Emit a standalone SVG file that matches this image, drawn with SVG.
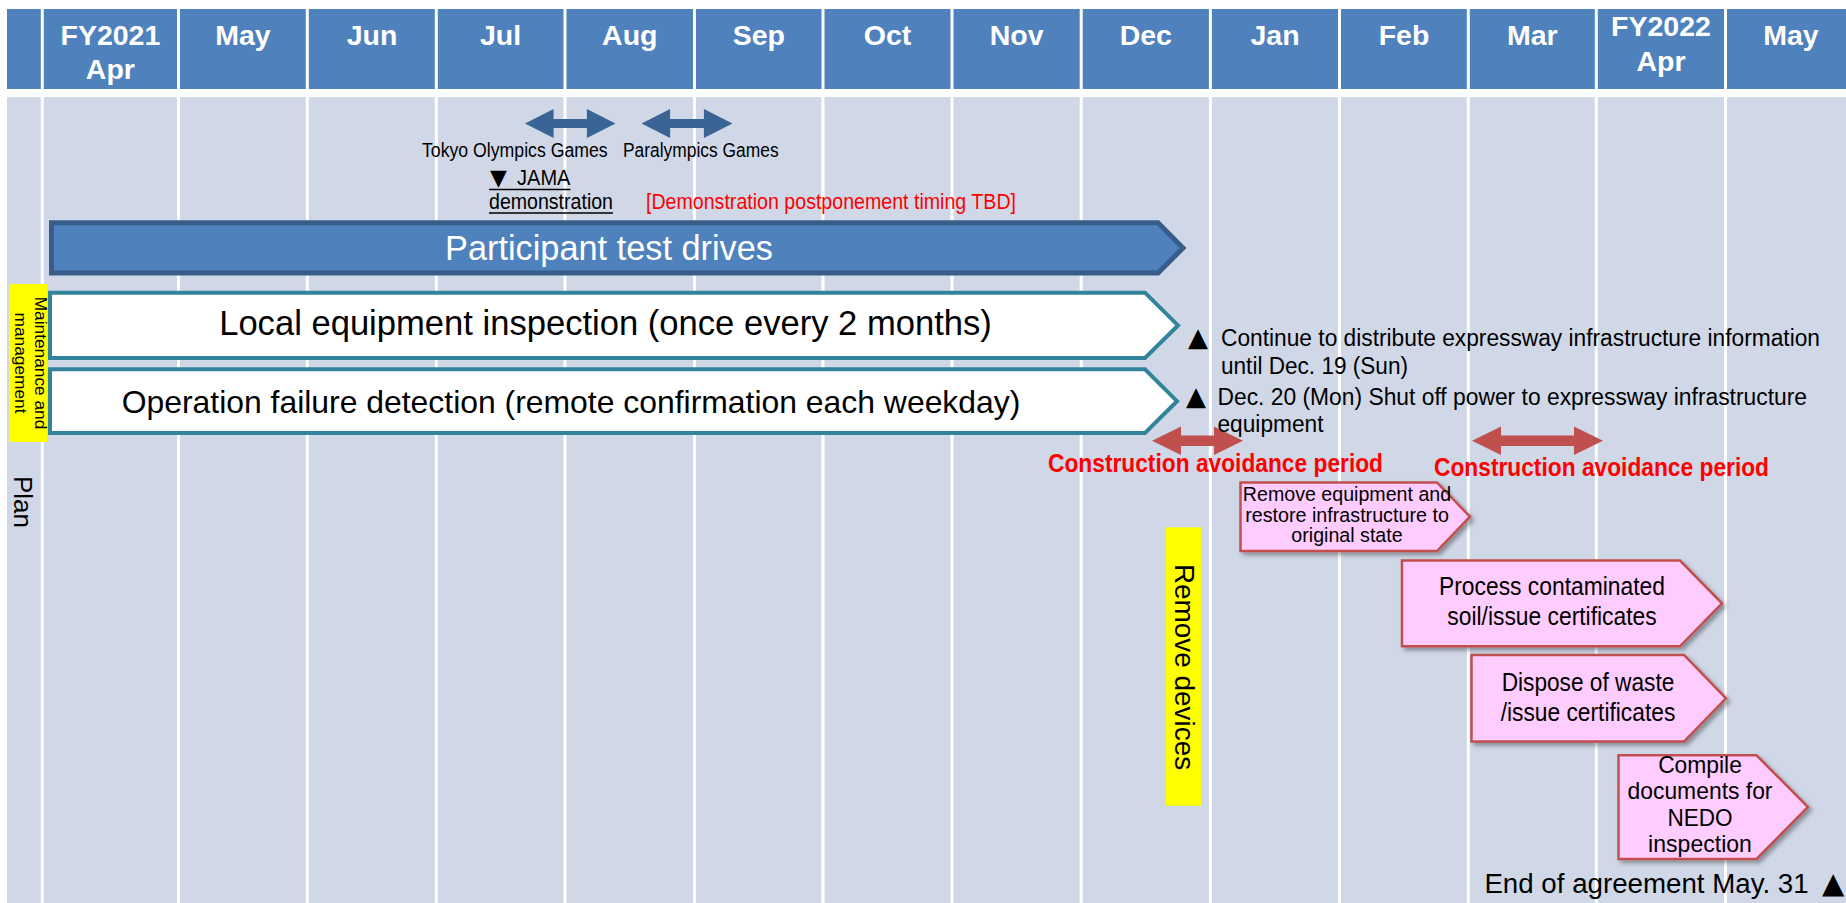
<svg xmlns="http://www.w3.org/2000/svg" width="1846" height="903" viewBox="0 0 1846 903">
<defs>
<style>
.hdr{font-family:"Liberation Sans",Arial,sans-serif;font-weight:bold;font-size:28.5px;fill:#fff;text-anchor:middle}
.t{font-family:"Liberation Sans",Arial,sans-serif;fill:#000}
.sym{font-family:"DejaVu Sans",sans-serif;fill:#000}
.red{fill:#FF0000}
.redb{font-family:"Liberation Sans",Arial,sans-serif;font-weight:bold;fill:#FF0000;font-size:26px}
.grid{stroke:#fff;stroke-width:3}
.bluearrow{fill:#3B6496}
.redarrow{fill:#C0504D}
.pink{fill:#FFCCFF;stroke:#C0504D;stroke-width:2.5;filter:url(#sh)}
.mm{fill:#fff;stroke:#31849B;stroke-width:4}
.yel{fill:#FFFF00}
.mid{text-anchor:middle}
.ul{stroke:#000;stroke-width:1.4}
</style>
<filter id="sh" x="-10%" y="-10%" width="130%" height="140%">
<feDropShadow dx="3" dy="3" stdDeviation="2" flood-color="#000" flood-opacity="0.35"/>
</filter>
</defs>
<rect x="0" y="0" width="1846" height="903" fill="#fff"/>
<g id="background">
<rect x="7" y="9" width="1839" height="80" fill="#4F81BD"/>
<rect x="7" y="97" width="1839" height="806" fill="#D0D8E8"/>
<g class="grid">
<line x1="42.3" y1="9" x2="42.3" y2="903"/>
<line x1="178.5" y1="9" x2="178.5" y2="903"/>
<line x1="307.3" y1="9" x2="307.3" y2="903"/>
<line x1="436.3" y1="9" x2="436.3" y2="903"/>
<line x1="565" y1="9" x2="565" y2="903"/>
<line x1="694.5" y1="9" x2="694.5" y2="903"/>
<line x1="823" y1="9" x2="823" y2="903"/>
<line x1="952" y1="9" x2="952" y2="903"/>
<line x1="1081.2" y1="9" x2="1081.2" y2="903"/>
<line x1="1210.4" y1="9" x2="1210.4" y2="903"/>
<line x1="1339.5" y1="9" x2="1339.5" y2="903"/>
<line x1="1468.3" y1="9" x2="1468.3" y2="903"/>
<line x1="1596.3" y1="9" x2="1596.3" y2="903"/>
<line x1="1725.5" y1="9" x2="1725.5" y2="903"/>
</g>
</g>
<g id="header">
<text class="hdr" x="110.4" y="45">FY2021</text>
<text class="hdr" x="110.4" y="78.5">Apr</text>
<text class="hdr" x="243" y="45">May</text>
<text class="hdr" x="372" y="45">Jun</text>
<text class="hdr" x="500.6" y="45">Jul</text>
<text class="hdr" x="629.8" y="45">Aug</text>
<text class="hdr" x="758.8" y="45">Sep</text>
<text class="hdr" x="887.5" y="45">Oct</text>
<text class="hdr" x="1016.6" y="45">Nov</text>
<text class="hdr" x="1145.8" y="45">Dec</text>
<text class="hdr" x="1275" y="45">Jan</text>
<text class="hdr" x="1404" y="45">Feb</text>
<text class="hdr" x="1532.3" y="45">Mar</text>
<text class="hdr" x="1661" y="35.5">FY2022</text>
<text class="hdr" x="1661" y="71">Apr</text>
<text class="hdr" x="1791" y="45">May</text>
</g>
<g id="connectors">
<polygon class="bluearrow" points="525,123.5 553.6,109 553.6,119 586.9,119 586.9,109 615.5,123.5 586.9,138 586.9,128 553.6,128 553.6,138"/>
<polygon class="bluearrow" points="641.5,123.5 670.1,109 670.1,119 703.9,119 703.9,109 732.5,123.5 703.9,138 703.9,128 670.1,128 670.1,138"/>
<polygon class="redarrow" points="1152,440.8 1181,426.6 1181,435.6 1214,435.6 1214,426.6 1243,440.8 1214,455 1214,446 1181,446 1181,455"/>
<polygon class="redarrow" points="1472,440.8 1501,426.6 1501,435.6 1574,435.6 1574,426.6 1603,440.8 1574,455 1574,446 1501,446 1501,455"/>
</g>
<g id="olympics-labels">
<text class="t" x="422" y="157" font-size="20" textLength="185.6" lengthAdjust="spacingAndGlyphs">Tokyo Olympics Games</text>
<text class="t" x="623" y="157" font-size="20" textLength="155.6" lengthAdjust="spacingAndGlyphs">Paralympics Games</text>
</g>
<g id="jama">
<text class="sym" x="490" y="185" font-size="22">▼</text>
<text class="t" x="517" y="185" font-size="22" textLength="53.5" lengthAdjust="spacingAndGlyphs">JAMA</text>
<text class="t" x="489" y="208.5" font-size="22" textLength="124" lengthAdjust="spacingAndGlyphs">demonstration</text>
<line class="ul" x1="489" y1="189.5" x2="570.5" y2="189.5"/>
<line class="ul" x1="489" y1="213" x2="613" y2="213"/>
</g>
<g id="tbd">
<text class="t red" x="646" y="208.5" font-size="22" textLength="370" lengthAdjust="spacingAndGlyphs">[Demonstration postponement timing TBD]</text>
</g>
<g id="participant-test-drives">
<polygon points="51.5,222.8 1158,222.8 1183,248 1158,273 51.5,273" fill="#4F81BD" stroke="#385D8A" stroke-width="5"/>
<text class="t mid" x="609" y="260" font-size="34.3" style="fill:#fff">Participant test drives</text>
</g>
<g id="maintenance-label">
<rect class="yel" x="9" y="284" width="38" height="158"/>
<text class="t mid" font-size="17.3" transform="translate(34.5,363) rotate(90)"><tspan x="0" y="0">Maintenance and</tspan><tspan x="0" y="20">management</tspan></text>
</g>
<g id="local-inspection">
<path class="mm" d="M50,292.7 L1145,292.7 L1178,325.4 L1145,358 L50,358 Z"/>
<text class="t mid" x="605.5" y="335" font-size="34.6">Local equipment inspection (once every 2 months)</text>
</g>
<g id="operation-detection">
<path class="mm" d="M50,369.3 L1145,369.3 L1177,401.2 L1145,433 L50,433 Z"/>
<text class="t mid" x="571" y="413" font-size="31.9">Operation failure detection (remote confirmation each weekday)</text>
</g>
<g id="plan-label">
<text class="t mid" font-size="26" transform="translate(14,502) rotate(90)">Plan</text>
</g>
<g id="note-distribute">
<text class="sym" x="1188" y="346" font-size="26">▲</text>
<text class="t" x="1221" y="346" font-size="23.5" textLength="599" lengthAdjust="spacingAndGlyphs">Continue to distribute expressway infrastructure information</text>
<text class="t" x="1221" y="374" font-size="23.5" textLength="187" lengthAdjust="spacingAndGlyphs">until Dec. 19 (Sun)</text>
</g>
<g id="note-shutoff">
<text class="sym" x="1186" y="405" font-size="26">▲</text>
<text class="t" x="1217.5" y="405" font-size="23.5" textLength="589.5" lengthAdjust="spacingAndGlyphs">Dec. 20 (Mon) Shut off power to expressway infrastructure</text>
<text class="t" x="1217.5" y="432" font-size="23.5" textLength="106" lengthAdjust="spacingAndGlyphs">equipment</text>
</g>
<g id="avoidance-1">
<text class="redb" x="1048" y="472" textLength="335" lengthAdjust="spacingAndGlyphs">Construction avoidance period</text>
</g>
<g id="avoidance-2">
<text class="redb" x="1434" y="476" textLength="335" lengthAdjust="spacingAndGlyphs">Construction avoidance period</text>
</g>
<g id="remove-devices">
<rect class="yel" x="1166" y="527.3" width="35" height="278.4"/>
<text class="t mid" font-size="27.9" transform="translate(1175,667) rotate(90)">Remove devices</text>
</g>
<g id="remove-equipment">
<path class="pink" d="M1240.5,482.5 L1437,482.5 L1470,516.7 L1437,551 L1240.5,551 Z"/>
<text class="t mid" x="1347" y="500.7" font-size="20.5" textLength="208.3" lengthAdjust="spacingAndGlyphs">Remove equipment and</text>
<text class="t mid" x="1347" y="521.5" font-size="20.5" textLength="203.7" lengthAdjust="spacingAndGlyphs">restore infrastructure to</text>
<text class="t mid" x="1347" y="541.7" font-size="20.5" textLength="111.3" lengthAdjust="spacingAndGlyphs">original state</text>
</g>
<g id="contaminated-soil">
<path class="pink" d="M1402,560.5 L1680,560.5 L1722,603.3 L1680,646.3 L1402,646.3 Z"/>
<text class="t mid" x="1552" y="595" font-size="25.5" textLength="226" lengthAdjust="spacingAndGlyphs">Process contaminated</text>
<text class="t mid" x="1552" y="625" font-size="25.5" textLength="209.3" lengthAdjust="spacingAndGlyphs">soil/issue certificates</text>
</g>
<g id="dispose-waste">
<path class="pink" d="M1471.5,655 L1684,655 L1726,698.3 L1684,741.5 L1471.5,741.5 Z"/>
<text class="t mid" x="1588" y="690.7" font-size="25.5" textLength="172.7" lengthAdjust="spacingAndGlyphs">Dispose of waste</text>
<text class="t mid" x="1588" y="720.7" font-size="25.5" textLength="174.6" lengthAdjust="spacingAndGlyphs">/issue certificates</text>
</g>
<g id="nedo-docs">
<path class="pink" d="M1618.5,755.3 L1756.5,755.3 L1808,807 L1756.5,859 L1618.5,859 Z"/>
<text class="t mid" x="1700" y="773.3" font-size="24.5" textLength="83.7" lengthAdjust="spacingAndGlyphs">Compile</text>
<text class="t mid" x="1700" y="799.3" font-size="24.5" textLength="145" lengthAdjust="spacingAndGlyphs">documents for</text>
<text class="t mid" x="1700" y="826" font-size="24.5" textLength="65.2" lengthAdjust="spacingAndGlyphs">NEDO</text>
<text class="t mid" x="1700" y="851.7" font-size="24.5" textLength="103.8" lengthAdjust="spacingAndGlyphs">inspection</text>
</g>
<g id="end-agreement">
<text class="t" x="1484.4" y="893" font-size="27.7">End of agreement May. 31</text>
<text class="sym" x="1822" y="893" font-size="29">▲</text>
</g>
</svg>
